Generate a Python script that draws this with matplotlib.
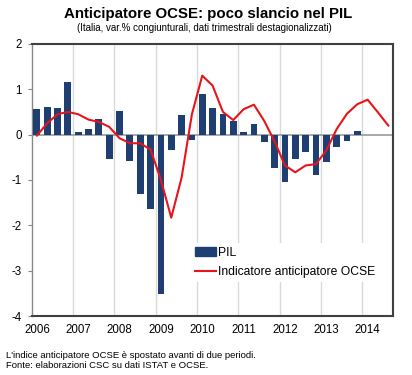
import matplotlib.pyplot as plt
from matplotlib.patches import Rectangle
from matplotlib.lines import Line2D

plt.rcParams['font.family'] = ['Liberation Sans', 'DejaVu Sans']
plt.rcParams['axes.unicode_minus'] = False

# Quarters 2006Q1 .. 2014Q3
years = ['2006', '2007', '2008', '2009', '2010', '2011', '2012', '2013', '2014']

# PIL, var.% congiunturale (2006Q1 .. 2013Q4)
pil = [0.56, 0.61, 0.59, 1.15, 0.06, 0.13, 0.34, -0.53,
       0.51, -0.59, -1.31, -1.65, -3.52, -0.34, 0.43, -0.12,
       0.89, 0.58, 0.45, 0.31, 0.06, 0.23, -0.17, -0.73,
       -1.05, -0.54, -0.39, -0.89, -0.60, -0.28, -0.14, 0.07]

# Indicatore anticipatore OCSE, spostato avanti di due periodi (2006Q1 .. 2014Q3)
ocse = [-0.02, 0.25, 0.45, 0.50, 0.45, 0.33, 0.28, 0.17,
        -0.08, -0.19, -0.19, -0.33, -1.00, -1.83, -0.95, 0.45,
        1.30, 1.08, 0.50, 0.32, 0.56, 0.66, 0.30, -0.15,
        -0.68, -0.83, -0.68, -0.65, -0.35, 0.12, 0.46, 0.67,
        0.77, 0.49, 0.20]

navy = '#1f3f73'
red = '#e8141c'

fig = plt.figure(figsize=(4.12, 3.75), dpi=100)
ax = fig.add_axes([0.077, 0.157, 0.878, 0.726])

ax.bar(range(len(pil)), pil, width=0.66, color=navy, zorder=3)
ax.plot(range(len(ocse)), ocse, color=red, lw=1.5, zorder=4)
ax.axhline(0, color='#999999', lw=1.2, zorder=2)

ax.set_xlim(-0.5, 34.5)
ax.set_ylim(-4, 2)
ax.set_yticks(range(-4, 3))
ax.set_xticks(range(0, 4 * len(years), 4))
ax.set_xticklabels(years)
ax.tick_params(axis='x', length=0, labelsize=8.3, pad=6)
ax.tick_params(axis='y', length=3, direction='out', labelsize=8.3, color='#888888', pad=4)

# vertical gridlines at year boundaries
for k in range(1, len(years)):
    ax.axvline(4 * k - 0.5, color='#d9d9d9', lw=1.0, zorder=1)

for side in ['top', 'right', 'bottom']:
    ax.spines[side].set_color('#404040')
    ax.spines[side].set_linewidth(1.5)
ax.spines['left'].set_color('#888888')
ax.spines['left'].set_linewidth(1.0)

handles = [Rectangle((0, 0), 1, 0.5, color=navy),
           Line2D([], [], color=red, lw=1.5)]
leg = ax.legend(handles, ['PIL', 'Indicatore anticipatore OCSE'],
                loc='upper left', bbox_to_anchor=(0.425, 0.29),
                frameon=True, fancybox=False, edgecolor='none',
                framealpha=1, fontsize=8.7, handlelength=1.7,
                handletextpad=0.2, borderpad=0.3, labelspacing=0.6)
leg.set_zorder(5)

fig.text(0.505, 0.963, 'Anticipatore OCSE: poco slancio nel PIL',
         ha='center', va='center', fontsize=10.8, fontweight='bold')
fig.text(0.495, 0.925, '(Italia, var.% congiunturali, dati trimestrali destagionalizzati)',
         ha='center', va='center', fontsize=7)

fig.text(0.014, 0.053, "L'indice anticipatore OCSE è spostato avanti di due periodi.",
         ha='left', va='center', fontsize=6.8)
fig.text(0.014, 0.024, 'Fonte: elaborazioni CSC su dati ISTAT e OCSE.',
         ha='left', va='center', fontsize=6.8)

fig.savefig('out.png', dpi=100)
